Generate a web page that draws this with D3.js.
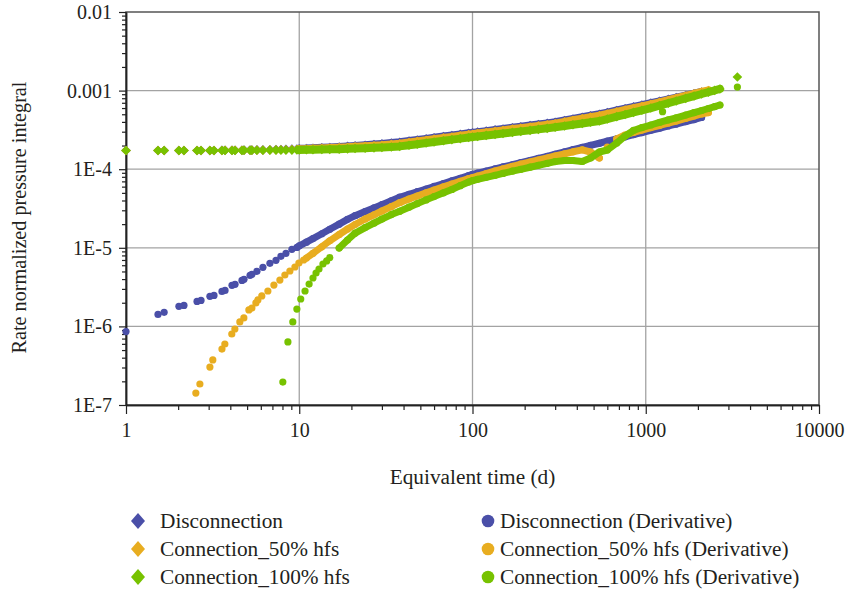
<!DOCTYPE html>
<html>
<head>
<meta charset="utf-8">
<script src="https://cdn.jsdelivr.net/npm/d3@7"></script>
<style>
  html, body { margin: 0; padding: 0; background: #fff; }
</style>
</head>
<body>
<div id="chart"></div>
<script>
/* =====================================================
 * DATA
 * ===================================================== */

// time steps (d) shared by the pressure curves and the Disconnection derivative
const timeSteps = [
  1, 1.53, 1.66, 2.02, 2.16, 2.57, 2.71, 3.05, 3.22, 3.58, 3.73, 4.09, 4.26, 4.67, 4.8,
  5.2, 5.33, 5.7, 6.17, 6.77, 7.34, 7.84, 8.38, 9.07, 9.7,
  10, 11, 12, 13.5, 15, 17, 19, 21, 24, 27, 30, 34, 38, 43, 48, 54, 60, 68, 76, 85, 95,
  100, 107, 120, 135, 150, 170, 190, 215, 240, 270, 300, 340, 380, 430, 480, 540, 600,
  680, 760, 850, 950, 1070, 1200, 1350, 1500, 1700, 1900, 2100, 2300, 2500, 2680
];

// rate normalized pressure integral
const disconnectionP = [
  1.73e-4, 1.73e-4, 1.73e-4, 1.73e-4, 1.73e-4, 1.73e-4, 1.73e-4, 1.73e-4, 1.73e-4, 1.74e-4,
  1.74e-4, 1.74e-4, 1.74e-4, 1.74e-4, 1.75e-4, 1.75e-4, 1.75e-4, 1.76e-4, 1.76e-4, 1.77e-4,
  1.78e-4, 1.78e-4, 1.79e-4, 1.80e-4, 1.81e-4,
  1.82e-4, 1.83e-4, 1.85e-4, 1.87e-4, 1.89e-4, 1.92e-4, 1.95e-4, 1.98e-4, 2.02e-4, 2.06e-4,
  2.10e-4, 2.15e-4, 2.20e-4, 2.28e-4, 2.35e-4, 2.43e-4, 2.51e-4, 2.60e-4, 2.68e-4, 2.77e-4,
  2.86e-4, 2.90e-4, 2.96e-4, 3.05e-4, 3.16e-4, 3.25e-4, 3.37e-4, 3.47e-4, 3.59e-4, 3.71e-4,
  3.83e-4, 3.96e-4, 4.17e-4, 4.36e-4, 4.58e-4, 4.79e-4, 5.01e-4, 5.25e-4, 5.58e-4, 5.88e-4,
  6.20e-4, 6.54e-4, 6.92e-4, 7.31e-4, 7.73e-4, 8.14e-4, 8.64e-4, 9.12e-4, 9.60e-4
];
const connection50P = [
  1.73e-4, 1.73e-4, 1.73e-4, 1.73e-4, 1.73e-4, 1.73e-4, 1.73e-4, 1.73e-4, 1.73e-4, 1.73e-4,
  1.74e-4, 1.74e-4, 1.74e-4, 1.74e-4, 1.74e-4, 1.74e-4, 1.75e-4, 1.75e-4, 1.75e-4, 1.76e-4,
  1.76e-4, 1.77e-4, 1.77e-4, 1.78e-4, 1.78e-4,
  1.79e-4, 1.80e-4, 1.82e-4, 1.84e-4, 1.86e-4, 1.88e-4, 1.90e-4, 1.93e-4, 1.96e-4, 1.99e-4,
  2.02e-4, 2.07e-4, 2.11e-4, 2.19e-4, 2.26e-4, 2.33e-4, 2.41e-4, 2.50e-4, 2.57e-4, 2.66e-4,
  2.75e-4, 2.78e-4, 2.84e-4, 2.93e-4, 3.03e-4, 3.12e-4, 3.24e-4, 3.33e-4, 3.45e-4, 3.56e-4,
  3.68e-4, 3.80e-4, 4.00e-4, 4.19e-4, 4.40e-4, 4.60e-4, 4.81e-4, 5.04e-4, 5.36e-4, 5.66e-4,
  5.97e-4, 6.30e-4, 6.70e-4, 7.10e-4, 7.55e-4, 8.00e-4, 8.55e-4, 9.10e-4, 9.60e-4, 1.005e-3
];
const connection100P = [
  1.73e-4, 1.73e-4, 1.73e-4, 1.73e-4, 1.73e-4, 1.73e-4, 1.73e-4, 1.73e-4, 1.73e-4, 1.73e-4,
  1.73e-4, 1.73e-4, 1.73e-4, 1.73e-4, 1.74e-4, 1.74e-4, 1.74e-4, 1.74e-4, 1.74e-4, 1.75e-4,
  1.75e-4, 1.75e-4, 1.75e-4, 1.75e-4, 1.76e-4,
  1.76e-4, 1.765e-4, 1.77e-4, 1.78e-4, 1.79e-4, 1.80e-4, 1.815e-4, 1.83e-4, 1.85e-4, 1.87e-4,
  1.89e-4, 1.92e-4, 1.95e-4, 2.02e-4, 2.08e-4, 2.15e-4, 2.22e-4, 2.30e-4, 2.38e-4, 2.45e-4,
  2.53e-4, 2.57e-4, 2.61e-4, 2.69e-4, 2.77e-4, 2.85e-4, 2.94e-4, 3.03e-4, 3.12e-4, 3.21e-4,
  3.31e-4, 3.42e-4, 3.55e-4, 3.67e-4, 3.82e-4, 3.95e-4, 4.10e-4, 4.35e-4, 4.66e-4, 4.96e-4,
  5.28e-4, 5.62e-4, 6.00e-4, 6.43e-4, 6.91e-4, 7.37e-4, 7.96e-4, 8.52e-4, 9.05e-4, 9.56e-4,
  1.006e-3, 1.05e-3
];

// derivatives
const disconnectionD = [
  8.6e-7, 1.42e-6, 1.51e-6, 1.80e-6, 1.85e-6, 2.08e-6, 2.14e-6, 2.41e-6, 2.48e-6, 2.79e-6,
  2.87e-6, 3.33e-6, 3.43e-6, 3.85e-6, 3.97e-6, 4.46e-6, 4.60e-6, 5.02e-6, 5.65e-6, 6.35e-6,
  6.93e-6, 7.80e-6, 8.50e-6, 9.57e-6, 1.01e-5,
  1.06e-5, 1.18e-5, 1.31e-5, 1.51e-5, 1.72e-5, 2.00e-5, 2.30e-5, 2.56e-5, 2.89e-5, 3.22e-5,
  3.54e-5, 3.97e-5, 4.40e-5, 4.79e-5, 5.17e-5, 5.60e-5, 6.03e-5, 6.57e-5, 7.10e-5, 7.67e-5,
  8.28e-5, 8.60e-5, 8.91e-5, 9.47e-5, 1.01e-4, 1.07e-4, 1.14e-4, 1.21e-4, 1.29e-4, 1.37e-4,
  1.46e-4, 1.55e-4, 1.66e-4, 1.77e-4, 1.89e-4, 2.01e-4, 2.14e-4, 2.27e-4, 2.43e-4, 2.58e-4,
  2.75e-4, 2.92e-4, 3.12e-4, 3.32e-4, 3.55e-4, 3.75e-4, 4.02e-4, 4.28e-4, 4.55e-4
];

// Connection_50% derivative: own early time steps, then timeSteps from 11 d
const connection50Times = [
  2.53, 2.67, 3.05, 3.17, 3.58, 3.72, 4.08, 4.25, 4.54, 4.79, 5.12, 5.33, 5.62, 5.77,
  6.08, 6.59, 7.14, 7.73, 8.26, 8.83, 9.44, 9.95, 10.6
];
const connection50DEarly = [
  1.42e-7, 1.85e-7, 3.04e-7, 3.74e-7, 5.15e-7, 5.97e-7, 8.0e-7, 9.27e-7, 1.14e-6, 1.28e-6,
  1.62e-6, 1.71e-6, 1.99e-6, 2.17e-6, 2.44e-6, 2.82e-6, 3.36e-6, 3.89e-6, 4.51e-6, 5.07e-6,
  5.70e-6, 6.41e-6, 7.0e-6
];
const connection50DLate = [
  7.42e-6, 8.51e-6, 1.03e-5, 1.227e-5, 1.476e-5, 1.734e-5, 1.978e-5, 2.325e-5, 2.63e-5, 2.94e-5,
  3.34e-5, 3.75e-5, 4.165e-5, 4.56e-5, 5.01e-5, 5.44e-5, 5.97e-5, 6.48e-5, 7.02e-5, 7.57e-5,
  7.80e-5, 8.17e-5, 8.82e-5, 9.49e-5, 1.012e-4, 1.089e-4, 1.157e-4, 1.235e-4, 1.309e-4, 1.388e-4,
  1.472e-4, 1.57e-4, 1.665e-4, 1.765e-4, 1.655e-4, 1.388e-4, 1.916e-4, 2.422e-4, 2.724e-4, 2.93e-4,
  3.15e-4, 3.39e-4, 3.60e-4, 3.87e-4, 4.10e-4, 4.44e-4, 4.75e-4, 5.04e-4, 5.26e-4
];

// Connection_100% derivative: own early time steps, then timeSteps from 15 d
const connection100Times = [8.04, 8.6, 9.18, 9.69, 10.2, 10.8, 11.4, 12.0, 12.5, 13.0, 13.7, 14.4];
const connection100DEarly = [
  1.96e-7, 6.34e-7, 1.14e-6, 1.66e-6, 2.23e-6, 2.82e-6, 3.46e-6, 4.13e-6, 4.78e-6, 5.37e-6,
  6.22e-6, 6.80e-6
];
const connection100DLate = [
  7.53e-6, 9.94e-6, 1.257e-5, 1.534e-5, 1.807e-5, 2.056e-5, 2.318e-5, 2.645e-5, 2.913e-5, 3.285e-5,
  3.65e-5, 4.07e-5, 4.48e-5, 5.01e-5, 5.52e-5, 6.18e-5, 6.87e-5, 7.14e-5, 7.44e-5, 7.89e-5,
  8.36e-5, 8.84e-5, 9.43e-5, 9.97e-5, 1.06e-4, 1.121e-4, 1.189e-4, 1.249e-4, 1.29e-4, 1.29e-4,
  1.253e-4, 1.388e-4, 1.655e-4, 1.754e-4, 2.154e-4, 2.645e-4, 3.11e-4, 3.39e-4, 3.65e-4, 3.93e-4,
  4.23e-4, 4.51e-4, 4.89e-4, 5.26e-4, 5.58e-4, 5.92e-4, 6.26e-4, 6.56e-4
];

// isolated Connection_100% points away from the band
const outlierTimesP = [3380];
const outlierValuesP = [1.49e-3];
const outlierTimesD = [1250, 3380];
const outlierValuesD = [5.39e-4, 1.11e-3];

// axes
const xTicks = [1, 10, 100, 1000, 10000];
const xTickLabels = ["1", "10", "100", "1000", "10000"];
const yTicks = [1e-7, 1e-6, 1e-5, 1e-4, 1e-3, 1e-2];
const yTickLabels = ["1E-7", "1E-6", "1E-5", "1E-4", "0.001", "0.01"];

const seriesNames = [
  "Disconnection", "Connection_50% hfs", "Connection_100% hfs",
  "Disconnection (Derivative)", "Connection_50% hfs (Derivative)", "Connection_100% hfs (Derivative)"
];
const seriesColors = ["#4a4fa8", "#e8ad20", "#77c200"];

/* =====================================================
 * HELPERS
 * ===================================================== */
function zip(times, values) {
  return values.map((v, i) => ({ t: times[i], v }));
}

const FONT = "'Liberation Serif', 'DejaVu Serif', serif";
const TEXT = "#231f20";
const W = 847, H = 591;
const box = { x0: 126, x1: 819, y0: 12, y1: 405 };

// series: early sparse points + dense band (band part gets a connecting stroke)
const series = [
  { name: seriesNames[0], color: seriesColors[0], shape: "diamond",
    early: zip(timeSteps.slice(0, 25), disconnectionP.slice(0, 25)),
    band: zip(timeSteps.slice(25), disconnectionP.slice(25)), extra: [] },
  { name: seriesNames[3], color: seriesColors[0], shape: "circle",
    early: zip(timeSteps.slice(0, 25), disconnectionD.slice(0, 25)),
    band: zip(timeSteps.slice(25), disconnectionD.slice(25)), extra: [] },
  { name: seriesNames[1], color: seriesColors[1], shape: "diamond",
    early: zip(timeSteps.slice(0, 25), connection50P.slice(0, 25)),
    band: zip(timeSteps.slice(25), connection50P.slice(25)), extra: [] },
  { name: seriesNames[4], color: seriesColors[1], shape: "circle",
    early: zip(connection50Times, connection50DEarly),
    band: zip(timeSteps.slice(26), connection50DLate), extra: [] },
  { name: seriesNames[2], color: seriesColors[2], shape: "diamond",
    early: zip(timeSteps.slice(0, 25), connection100P.slice(0, 25)),
    band: zip(timeSteps.slice(25), connection100P.slice(25)),
    extra: zip(outlierTimesP, outlierValuesP) },
  { name: seriesNames[5], color: seriesColors[2], shape: "circle",
    early: zip(connection100Times, connection100DEarly),
    band: zip(timeSteps.slice(29), connection100DLate),
    extra: zip(outlierTimesD, outlierValuesD) }
];

function diamondPath(r) {
  return `M0,${-r}L${r},0L0,${r}L${-r},0Z`;
}

/* =====================================================
 * SVG + SCALES
 * ===================================================== */
const svg = d3.select("#chart")
  .append("svg")
  .attr("width", W)
  .attr("height", H)
  .attr("viewBox", `0 0 ${W} ${H}`)
  .style("display", "block");

const x = d3.scaleLog().domain([1, 10000]).range([box.x0, box.x1]);
const y = d3.scaleLog().domain([1e-7, 1e-2]).range([box.y1, box.y0]);

// minor tick positions 2..9 in every decade
const xMinor = d3.range(0, 4).flatMap(e => d3.range(2, 10).map(k => k * Math.pow(10, e)));
const yMinor = d3.range(-7, -2).flatMap(e => d3.range(2, 10).map(k => k * Math.pow(10, e)));

/* grid */
const gGrid = svg.append("g");
gGrid.selectAll("line.vx")
  .data(xTicks.slice(1, -1))
  .join("line")
  .attr("x1", d => x(d)).attr("x2", d => x(d))
  .attr("y1", box.y0).attr("y2", box.y1)
  .attr("stroke", "#a3a3a3").attr("stroke-width", 1.3);
gGrid.selectAll("line.hy")
  .data(yTicks.slice(1, -1))
  .join("line")
  .attr("x1", box.x0).attr("x2", box.x1)
  .attr("y1", d => y(d)).attr("y2", d => y(d))
  .attr("stroke", "#a3a3a3").attr("stroke-width", 1.3);

svg.append("rect")
  .attr("x", box.x0).attr("y", box.y0)
  .attr("width", box.x1 - box.x0).attr("height", box.y1 - box.y0)
  .attr("fill", "none").attr("stroke", "#555").attr("stroke-width", 1.5);

/* axes */
function styleAxis(g) {
  g.attr("font-family", FONT).attr("font-size", 20);
  g.selectAll("text").attr("fill", TEXT);
  g.selectAll("line").attr("stroke", "#222").attr("stroke-width", 1.2);
  g.select(".domain").attr("stroke", "#222").attr("stroke-width", 1.5);
}

svg.append("g")
  .attr("transform", `translate(0,${box.y1})`)
  .call(d3.axisBottom(x).tickValues(xMinor).tickSize(5).tickSizeOuter(0).tickFormat(""))
  .call(styleAxis);
svg.append("g")
  .attr("transform", `translate(0,${box.y1})`)
  .call(d3.axisBottom(x).tickValues(xTicks).tickSize(9).tickSizeOuter(0)
    .tickPadding(9).tickFormat((d, i) => xTickLabels[i]))
  .call(styleAxis);

svg.append("g")
  .attr("transform", `translate(${box.x0},0)`)
  .call(d3.axisLeft(y).tickValues(yMinor).tickSize(4).tickSizeOuter(0).tickFormat(""))
  .call(styleAxis);
svg.append("g")
  .attr("transform", `translate(${box.x0},0)`)
  .call(d3.axisLeft(y).tickValues(yTicks).tickSize(7).tickSizeOuter(0)
    .tickPadding(7).tickFormat((d, i) => yTickLabels[i]))
  .call(styleAxis);

/* axis titles */
svg.append("text")
  .attr("x", (box.x0 + box.x1) / 2).attr("y", 484)
  .attr("text-anchor", "middle")
  .attr("font-family", FONT).attr("font-size", 21.3).attr("fill", TEXT)
  .text("Equivalent time (d)");

svg.append("text")
  .attr("transform", `translate(26,${(box.y0 + box.y1) / 2 + 9}) rotate(-90)`)
  .attr("text-anchor", "middle")
  .attr("font-family", FONT).attr("font-size", 20.2).attr("fill", TEXT)
  .text("Rate normalized pressure integral");

/* =====================================================
 * DATA MARKS
 * ===================================================== */
const gData = svg.append("g");
const line = d3.line().x(d => x(d.t)).y(d => y(d.v));

// split the band into runs of neighbouring points (gaps stay open)
function runs(points) {
  const out = [];
  let cur = [];
  points.forEach((p, i) => {
    if (i > 0) {
      const q = points[i - 1];
      const dist = Math.hypot(x(p.t) - x(q.t), y(p.v) - y(q.v));
      if (dist > 12) { out.push(cur); cur = []; }
    }
    cur.push(p);
  });
  out.push(cur);
  return out.filter(r => r.length > 1);
}

series.forEach(s => {
  const g = gData.append("g");
  const width = s.shape === "diamond" ? 8 : 7;

  g.selectAll("path.band")
    .data(runs(s.band))
    .join("path")
    .attr("d", line)
    .attr("fill", "none")
    .attr("stroke", s.color)
    .attr("stroke-width", width)
    .attr("stroke-linecap", "round")
    .attr("stroke-linejoin", "round");

  const pts = s.early.concat(s.band, s.extra);
  if (s.shape === "diamond") {
    g.selectAll("path.mk")
      .data(pts)
      .join("path")
      .attr("transform", d => `translate(${x(d.t)},${y(d.v)})`)
      .attr("d", diamondPath(4.8))
      .attr("fill", s.color);
  } else {
    g.selectAll("circle")
      .data(pts)
      .join("circle")
      .attr("cx", d => x(d.t))
      .attr("cy", d => y(d.v))
      .attr("r", 3.6)
      .attr("fill", s.color);
  }
});

/* =====================================================
 * LEGEND
 * ===================================================== */
const legendItems = [
  { name: seriesNames[0], color: seriesColors[0], shape: "diamond", col: 0, row: 0 },
  { name: seriesNames[1], color: seriesColors[1], shape: "diamond", col: 0, row: 1 },
  { name: seriesNames[2], color: seriesColors[2], shape: "diamond", col: 0, row: 2 },
  { name: seriesNames[3], color: seriesColors[0], shape: "circle", col: 1, row: 0 },
  { name: seriesNames[4], color: seriesColors[1], shape: "circle", col: 1, row: 1 },
  { name: seriesNames[5], color: seriesColors[2], shape: "circle", col: 1, row: 2 }
];
const legendCol = [{ mark: 138, text: 160 }, { mark: 488, text: 500 }];

const gLeg = svg.append("g");
const li = gLeg.selectAll("g")
  .data(legendItems)
  .join("g")
  .attr("transform", d => `translate(0,${521 + d.row * 28})`);

li.filter(d => d.shape === "diamond")
  .append("path")
  .attr("transform", d => `translate(${legendCol[d.col].mark},0)`)
  .attr("d", "M0,-8L7,0L0,8L-7,0Z")
  .attr("fill", d => d.color);
li.filter(d => d.shape === "circle")
  .append("circle")
  .attr("cx", d => legendCol[d.col].mark)
  .attr("r", 6.3)
  .attr("fill", d => d.color);

li.append("text")
  .attr("x", d => legendCol[d.col].text)
  .attr("y", 7)
  .attr("font-family", FONT).attr("font-size", 21.3).attr("fill", TEXT)
  .text(d => d.name);
</script>
</body>
</html>
